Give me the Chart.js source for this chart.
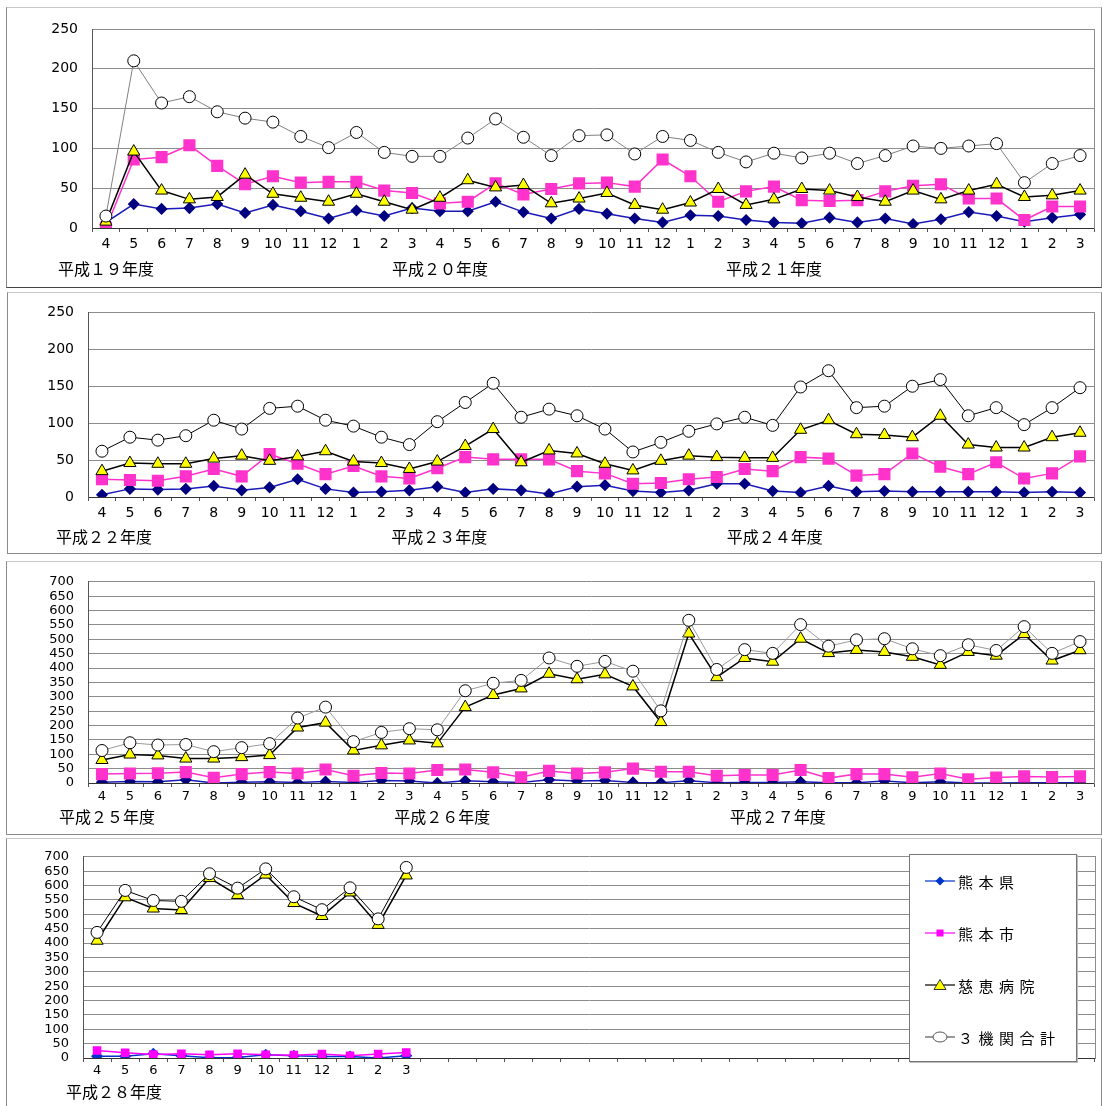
<!DOCTYPE html>
<html lang="ja">
<head>
<meta charset="utf-8">
<title>月別件数の推移</title>
<script src="https://cdn.jsdelivr.net/npm/chart.js@4.4.1/dist/chart.umd.min.js"></script>
<style>
  body { margin: 0; background: #fff; }
  #page { position: relative; width: 1103px; height: 1106px; overflow: hidden; }
  .frame { position: absolute; box-sizing: border-box; border: 1px solid #8a8a8a; border-top-color: #c8c8c8; }
  canvas { position: absolute; left: 0; }
  #legend {
    position: absolute; left: 909px; top: 854px; width: 168px; height: 208px;
    box-sizing: border-box; padding: 16px 0 0 15px;
    background: #fff; border: 1px solid #777; box-shadow: 1px 1px 0 #bbb;
    font-family: 'Noto Sans CJK JP', sans-serif; font-size: 15px; letter-spacing: 5.5px; color: #000;
  }
  #legend .item { display: flex; align-items: center; height: 20px; margin-bottom: 32px; }
  #legend svg { margin-right: 3px; flex: none; }
</style>
</head>
<body>
<div id="page">
  <div class="frame" style="left:6px;top:7px;width:1096px;height:281px;border-bottom-color:#444"></div>
  <div class="frame" style="left:7px;top:292px;width:1095px;height:262px"></div>
  <div class="frame" style="left:6px;top:561px;width:1096px;height:274px"></div>
  <div class="frame" style="left:6px;top:838px;width:1096px;height:280px"></div>
  <canvas id="chart1" width="1103" height="290" style="top:0px"></canvas>
  <canvas id="chart2" width="1103" height="265" style="top:290px"></canvas>
  <canvas id="chart3" width="1103" height="275" style="top:560px"></canvas>
  <canvas id="chart4" width="1103" height="271" style="top:835px"></canvas>
  <div id="legend"></div>
</div>
<script>
const months = ['4', '5', '6', '7', '8', '9', '10', '11', '12', '1', '2', '3'];
const seriesNames = ['熊本県', '熊本市', '慈恵病院', '３機関合計'];

// 平成19〜21年度
const years1 = ['平成１９年度', '平成２０年度', '平成２１年度'];
const pref1 = [7, 30, 24, 25, 30, 19, 29, 21, 12, 22, 15, 25,
  21, 21, 33, 20, 12, 24, 18, 12, 7, 16, 15, 10,
  7, 6, 13, 7, 12, 5, 11, 20, 15, 8, 13, 17];
const city1 = [0, 86, 89, 104, 78, 55, 65, 57, 58, 58, 47, 44,
  31, 33, 56, 42, 49, 56, 57, 52, 86, 65, 33, 46,
  52, 35, 34, 35, 46, 53, 55, 37, 37, 10, 27, 27];
const jikei1 = [8, 96, 47, 36, 39, 67, 43, 38, 33, 43, 33, 23,
  38, 60, 51, 54, 31, 37, 44, 29, 23, 32, 49, 29,
  36, 49, 47, 39, 33, 47, 36, 47, 55, 39, 41, 47];
const total1 = [15, 210, 157, 165, 146, 138, 133, 115, 101, 120, 95, 90,
  90, 113, 137, 114, 91, 116, 117, 93, 115, 110, 95, 83,
  94, 88, 94, 81, 91, 103, 100, 103, 106, 57, 81, 91];

// 平成22〜24年度
const years2 = ['平成２２年度', '平成２３年度', '平成２４年度'];
const pref2 = [3, 11, 10, 11, 15, 9, 13, 24, 11, 6, 7, 9,
  14, 6, 11, 9, 4, 14, 16, 8, 6, 9, 18, 18,
  8, 6, 15, 7, 8, 7, 7, 7, 7, 6, 7, 6];
const city2 = [24, 23, 22, 28, 38, 28, 58, 45, 31, 42, 28, 25,
  39, 54, 51, 51, 51, 35, 32, 18, 19, 24, 27, 38,
  35, 54, 52, 29, 31, 59, 41, 31, 47, 25, 32, 55];
const jikei2 = [35, 46, 45, 45, 52, 56, 49, 55, 62, 48, 46, 38,
  48, 69, 92, 47, 63, 59, 45, 36, 49, 56, 54, 53,
  53, 91, 104, 85, 84, 81, 110, 71, 67, 67, 81, 87];
const total2 = [62, 81, 77, 83, 104, 92, 120, 123, 104, 96, 81, 71,
  102, 128, 154, 108, 119, 110, 92, 61, 74, 89, 99, 108,
  97, 149, 171, 121, 123, 150, 159, 110, 121, 98, 121, 148];

// 平成25〜27年度
const years3 = ['平成２５年度', '平成２６年度', '平成２７年度'];
const pref3 = [3, 5, 4, 11, 0, 3, 4, 2, 5, 2, 9, 7,
  0, 8, 4, 2, 11, 7, 9, 2, 1, 8, 1, 2,
  2, 4, 1, 1, 7, 1, 4, 0, 0, 1, 1, 1];
const city3 = [31, 33, 34, 38, 18, 31, 38, 33, 47, 25, 35, 33,
  45, 47, 37, 20, 42, 33, 37, 50, 39, 39, 25, 28,
  28, 45, 17, 31, 31, 20, 33, 13, 19, 23, 21, 23];
const jikei3 = [80, 99, 96, 85, 85, 90, 97, 193, 210, 113, 131, 148,
  138, 264, 306, 329, 380, 361, 378, 336, 212, 520, 368, 435,
  422, 502, 452, 463, 456, 439, 411, 456, 443, 518, 426, 462];
const total3 = [113, 140, 132, 134, 109, 123, 137, 226, 264, 144, 176, 189,
  185, 321, 347, 357, 435, 406, 423, 389, 251, 566, 395, 464,
  451, 551, 476, 498, 502, 467, 443, 481, 461, 544, 451, 492];

// 平成28年度
const years4 = ['平成２８年度'];
const pref4 = [6, 6, 15, 8, 1, 2, 11, 8, 5, 5, 0, 8];
const city4 = [26, 18, 12, 15, 11, 15, 11, 10, 14, 8, 14, 19];
const jikei4 = [408, 559, 520, 515, 626, 567, 638, 539, 494, 576, 463, 635];
const total4 = [437, 583, 548, 545, 641, 591, 658, 561, 516, 592, 484, 663];

function monthLabels(filledYears) {
  const labels = [];
  for (let y = 0; y < 3; y++) {
    months.forEach((m) => labels.push(y < filledYears ? m : ''));
  }
  return labels;
}

function yearLabels(years) {
  const labels = [];
  for (let y = 0; y < 3; y++) {
    months.forEach((m, i) => labels.push(i === 0 && years[y] ? years[y] : ''));
  }
  return labels;
}

const panels = [
  { id: 'chart1', yMax: 250, years: years1, filled: 3, data: [pref1, city1, jikei1, total1],
    padTop: 29, padRight: 4, yWidth: 92, xHeight: 28, x2Height: 34, font: 14, xPad: 4, x2Pad: 3, yearShift: 0,
    prefColor: '#000080', prefLine: '#1a1ab8', cityColor: '#ff33cc', cityR: 7.5, prefR: 5, totalLine: '#808080' },
  { id: 'chart2', yMax: 250, years: years2, filled: 3, data: [pref2, city2, jikei2, total2],
    padTop: 19, padRight: 2, yWidth: 88, xHeight: 28, x2Height: 30, font: 14, xPad: 4, x2Pad: 2, yearShift: 2,
    prefColor: '#000080', prefLine: '#1a1ab8', cityColor: '#ff33cc', cityR: 7.5, prefR: 5, totalLine: '#000' },
  { id: 'chart3', yMax: 700, years: years3, filled: 3, data: [pref3, city3, jikei3, total3],
    padTop: 12, padRight: 4, yWidth: 88, xHeight: 24, x2Height: 28, font: 13, xPad: 2, x2Pad: 0, yearShift: 5,
    prefColor: '#000080', prefLine: '#1a1ab8', cityColor: '#ff33cc', cityR: 7.5, prefR: 5, totalLine: '#9a9a9a' },
  { id: 'chart4', yMax: 700, years: years4, filled: 1, data: [pref4, city4, jikei4, total4],
    padTop: 17, padRight: 5, yWidth: 83, xHeight: 22, x2Height: 26, font: 13, xPad: 1, x2Pad: 2, yearShift: 17,
    prefColor: '#0033cc', prefLine: '#0033cc', cityColor: '#ff00ff', cityR: 5, prefR: 5, totalLine: '#000' }
];

function seriesStyles(p) {
  return [
    { borderColor: p.prefLine, pointBackgroundColor: p.prefColor, pointBorderColor: p.prefColor,
      pointStyle: 'rectRot', pointRadius: p.prefR, borderWidth: 1.5, order: 4 },
    { borderColor: p.cityColor, pointBackgroundColor: p.cityColor, pointBorderColor: p.cityColor,
      pointStyle: 'rect', pointRadius: p.cityR, borderWidth: 1.5, order: 3 },
    { borderColor: '#000', pointBackgroundColor: '#ffff00', pointBorderColor: '#000',
      pointStyle: 'triangle', pointRadius: 7, pointBorderWidth: 1, borderWidth: 1.5, order: 2 },
    { borderColor: p.totalLine, pointBackgroundColor: '#fff', pointBorderColor: '#000',
      pointStyle: 'circle', pointRadius: 6, pointBorderWidth: 1, borderWidth: 1, order: 1 }
  ];
}

const digitFont = "'DejaVu Sans', 'Noto Sans CJK JP', sans-serif";
const kanjiFont = "'Noto Sans CJK JP', sans-serif";

function makeChart(p) {
  const styles = seriesStyles(p);
  const datasets = seriesNames.map((name, i) => Object.assign({
    label: name,
    data: p.data[i],
    tension: 0,
    fill: false
  }, styles[i]));

  return new Chart(document.getElementById(p.id), {
    type: 'line',
    data: { labels: monthLabels(p.filled), datasets: datasets },
    options: {
      responsive: false,
      animation: false,
      layout: { padding: { top: p.padTop, right: p.padRight, left: 0, bottom: 0 } },
      plugins: { legend: { display: false }, tooltip: { enabled: false } },
      scales: {
        x: {
          type: 'category',
          position: 'bottom',
          weight: 0,
          offset: true,
          grid: { offset: true, drawOnChartArea: false, drawTicks: true, tickLength: 4, color: '#555' },
          border: { color: '#333', width: 1 },
          ticks: { autoSkip: false, maxRotation: 0, minRotation: 0, padding: p.xPad, color: '#000',
            font: { family: digitFont, size: p.font } },
          afterFit: (scale) => { scale.height = p.xHeight; }
        },
        x2: {
          type: 'category',
          position: 'bottom',
          weight: 1,
          offset: true,
          labels: yearLabels(p.years),
          grid: { display: false, drawTicks: false },
          border: { display: false },
          ticks: { autoSkip: false, maxRotation: 0, minRotation: 0, padding: p.x2Pad, color: '#000',
            labelOffset: p.yearShift, font: { family: kanjiFont, size: 16 } },
          afterFit: (scale) => { scale.height = p.x2Height; }
        },
        y: {
          min: 0,
          max: p.yMax,
          grid: { color: '#8c8c8c', drawTicks: false },
          border: { color: '#555' },
          ticks: { stepSize: 50, autoSkip: false, padding: 14, color: '#000',
            font: { family: digitFont, size: p.font } },
          afterFit: (scale) => { scale.width = p.yWidth; }
        },
        y2: {
          position: 'right',
          min: 0,
          max: 1,
          grid: { display: false, drawTicks: false },
          border: { color: '#8c8c8c' },
          ticks: { display: false },
          afterFit: (scale) => { scale.width = 0; }
        }
      }
    }
  });
}

const charts = panels.map(makeChart);

function legendIcon(ds) {
  let marker = '';
  if (ds.pointStyle === 'rectRot') {
    marker = `<polygon points="15,2.5 19.5,7 15,11.5 10.5,7" fill="${ds.pointBackgroundColor}"/>`;
  } else if (ds.pointStyle === 'rect') {
    marker = `<rect x="11.5" y="3.5" width="7" height="7" fill="${ds.pointBackgroundColor}"/>`;
  } else if (ds.pointStyle === 'triangle') {
    marker = `<polygon points="15,1.5 21,11.5 9,11.5" fill="${ds.pointBackgroundColor}" stroke="#333" stroke-width="1"/>`;
  } else {
    marker = `<ellipse cx="15" cy="7" rx="7" ry="5" fill="#fff" stroke="#555" stroke-width="1"/>`;
  }
  const line = ds.pointStyle === 'circle' ? '#555' : ds.borderColor;
  return `<svg width="30" height="14" viewBox="0 0 30 14"><line x1="0" y1="7" x2="30" y2="7" stroke="${line}" stroke-width="1.2"/>${marker}</svg>`;
}

const legendEl = document.getElementById('legend');
const lastChart = charts[charts.length - 1];
lastChart.data.datasets.forEach((ds) => {
  const item = document.createElement('div');
  item.className = 'item';
  item.innerHTML = legendIcon(ds) + `<span>${ds.label}</span>`;
  legendEl.appendChild(item);
});
</script>
</body>
</html>
